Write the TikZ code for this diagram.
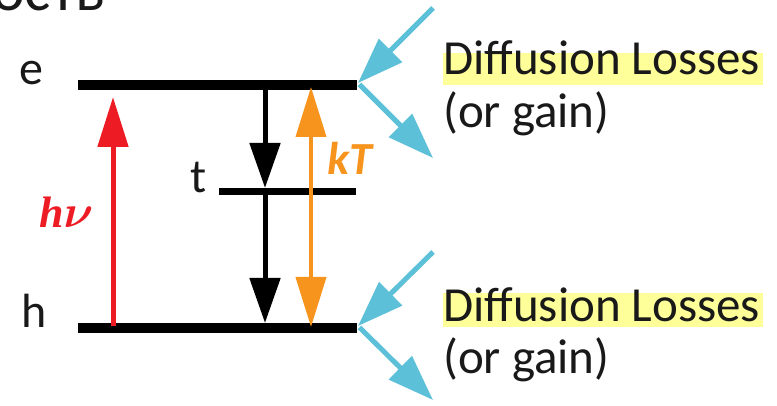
\documentclass[tikz,border=0pt]{standalone}
\usepackage{graphicx}
\usepackage{bm}
\usepackage{fontspec}
\setmainfont{Carlito}
\newfontfamily\serifbi{Liberation Serif}
\usetikzlibrary{arrows.meta}
\definecolor{arrred}{RGB}{237,28,36}
\definecolor{arrorange}{RGB}{247,148,29}
\definecolor{arrblue}{RGB}{92,192,216}
\definecolor{hlyellow}{RGB}{255,255,153}
\definecolor{txt}{RGB}{25,25,25}
\tikzset{
  level/.style={line width=10pt, line cap=butt, black},
  thinlevel/.style={line width=7pt, line cap=butt, black},
  redarr/.style={line width=5pt, arrred, -{Triangle[length=50pt,width=30pt]}},
  blackarr/.style={line width=5pt, black, -{Triangle[length=45pt,width=30pt]}},
  orangearr/.style={line width=4pt, arrorange, {Triangle[length=50pt,width=30pt]}-{Triangle[length=50pt,width=30pt]}},
  bluearr/.style={line width=5pt, arrblue, -{Triangle[length=46pt,width=32pt]}},
  lbl/.style={inner sep=0pt, anchor=base west, text=txt, font=\fontsize{48}{56}\selectfont},
  big/.style={inner sep=0pt, anchor=base west, text=txt, font=\fontsize{49}{56}\selectfont},
}
\begin{document}
\begin{tikzpicture}[x=1pt,y=-1pt]
\useasboundingbox (0,0) rectangle (777,406);
\clip (0,0) rectangle (777,406);
% clipped heading fragment
\node[inner sep=0pt, anchor=base west, text=txt, font=\fontsize{62}{70}\selectfont] (head) at (-8,11) {ость};
% level coordinates
\coordinate (eL) at (78,85);
\coordinate (eR) at (357,85);
\coordinate (tL) at (219,192);
\coordinate (tR) at (356,192);
\coordinate (hL) at (78,328);
\coordinate (hR) at (357,328);
% highlights
\fill[hlyellow] (443,53) rectangle (763,85);
\fill[hlyellow] (443,293) rectangle (763,327);
% levels
\draw[level] (eL) -- (eR);
\draw[thinlevel] (tL) -- (tR);
\draw[level] (hL) -- (hR);
% labels
\node[lbl] (le) at (19,85) {e};
\node[lbl] (lt) at (190,193) {t};
\node[lbl] (lh) at (21,327) {h};
% red photon arrow
\coordinate (rS) at (113,326);
\coordinate (rE) at (113,97);
\draw[redarr] (rS) -- (rE);
\node[inner sep=0pt, anchor=base west, text=arrred, font=\fontsize{44}{50}\selectfont] (hnu) at (39,228) {{\serifbi\bfseries\itshape h}{\fontsize{10}{12}\selectfont\scalebox{4.6}{$\bm{\nu}$}}};
% black arrows
\coordinate (b1S) at (265,88);
\coordinate (b1E) at (265,188);
\coordinate (b2S) at (265,195);
\coordinate (b2E) at (265,323);
\draw[blackarr] (b1S) -- (b1E);
\draw[blackarr] (b2S) -- (b2E);
% orange kT arrow
\coordinate (oT) at (311,87);
\coordinate (oB) at (311,327);
\draw[orangearr] (oB) -- (oT);
\node[inner sep=0pt, anchor=base west, text=arrorange, font=\fontsize{46}{50}\selectfont\bfseries\itshape] (kT) at (327,175) {kT};
% blue diffusion arrows
\coordinate (bt1) at (433,8);
\coordinate (bt0) at (358,83);
\coordinate (bt2) at (433,158);
\coordinate (bb1) at (433,252);
\coordinate (bb0) at (358,326);
\coordinate (bb2) at (433,400);
\draw[bluearr] (bt1) -- (bt0);
\draw[bluearr, shorten <=2pt] (bt0) -- (bt2);
\draw[bluearr] (bb1) -- (bb0);
\draw[bluearr, shorten <=2pt] (bb0) -- (bb2);
% texts
\node[big] (d1) at (443,75) {Diffusion Losses};
\node[big] (g1) at (443,128) {(or gain)};
\node[big] (d2) at (443,322) {Diffusion Losses};
\node[big] (g2) at (443,373) {(or gain)};
\end{tikzpicture}
\end{document}
